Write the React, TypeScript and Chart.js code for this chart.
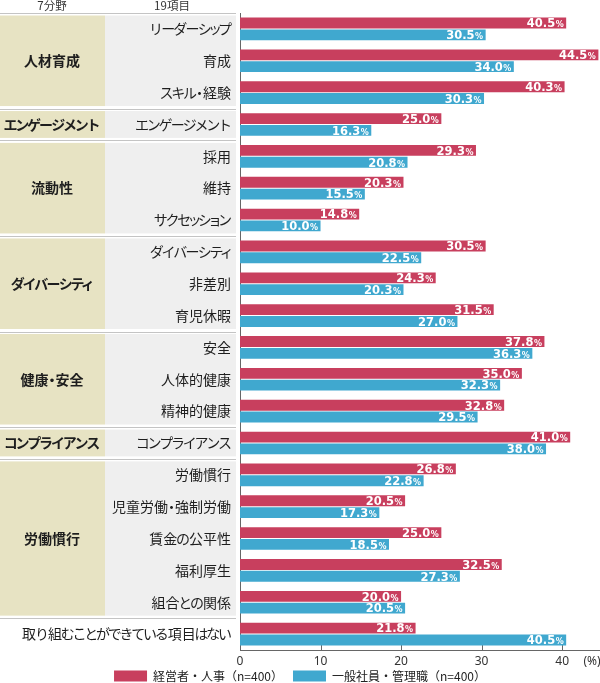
import React, { useEffect, useRef } from "react";
import { Chart, registerables } from "chart.js";

Chart.register(...registerables);

const headerLabels = ["7分野", "19項目"];
const groupNames = ["人材育成", "エンゲージメント", "流動性", "ダイバーシティ", "健康・安全", "コンプライアンス", "労働慣行"];
const groupSizes = [3, 1, 3, 3, 3, 1, 5];
const itemLabels = [
  "リーダーシップ", "育成", "スキル・経験",
  "エンゲージメント",
  "採用", "維持", "サクセッション",
  "ダイバーシティ", "非差別", "育児休暇",
  "安全", "人体的健康", "精神的健康",
  "コンプライアンス",
  "労働慣行", "児童労働・強制労働", "賃金の公平性", "福利厚生", "組合との関係",
  "取り組むことができている項目はない",
];
const executiveValues = [40.5, 44.5, 40.3, 25.0, 29.3, 20.3, 14.8, 30.5, 24.3, 31.5, 37.8, 35.0, 32.8, 41.0, 26.8, 20.5, 25.0, 32.5, 20.0, 21.8];
const employeeValues = [30.5, 34.0, 30.3, 16.3, 20.8, 15.5, 10.0, 22.5, 20.3, 27.0, 36.3, 32.3, 29.5, 38.0, 22.8, 17.3, 18.5, 27.3, 20.5, 40.5];
const seriesLabels = ["経営者・人事（n=400）", "一般社員・管理職（n=400）"];
const xTickValues = [0, 10, 20, 30, 40];
const unitLabel = "(%)";

const RED = "#c83f5e";
const BLUE = "#40a8cf";
const BEIGE = "#e7e3c3";
const LIGHT = "#efefef";
const LINE = "#c4c4c4";
const JP = "'Noto Sans CJK JP', 'Noto Sans', sans-serif";

function advanceOf(ctx: CanvasRenderingContext2D, ch: string, size: number) {
  if ("ッャュョィェォァゥっゃゅょ".includes(ch)) return size * 0.62;
  if (ch === "・") return size * 0.5;
  if (ch === "ー") return size * 0.9;
  if (/[\u3040-\u30ff]/.test(ch)) return size * 0.84;
  return ctx.measureText(ch).width;
}

function drawJP(ctx: CanvasRenderingContext2D, text: string, x: number, y: number, size: number, align: "left" | "right" | "center") {
  const chars = [...text];
  const advs = chars.map((ch) => advanceOf(ctx, ch, size));
  const total = advs.reduce((a, b) => a + b, 0);
  let cx = align === "right" ? x - total : align === "center" ? x - total / 2 : x;
  ctx.textAlign = "center";
  chars.forEach((ch, i) => {
    ctx.fillText(ch, cx + advs[i] / 2, y);
    cx += advs[i];
  });
}

const tablePlugin = {
  id: "leftTable",
  beforeDraw(chart: any) {
    const ctx: CanvasRenderingContext2D = chart.ctx;
    const y = chart.scales.y;
    const half = Math.abs(y.getPixelForValue(1) - y.getPixelForValue(0)) / 2;
    const colSplit = 105;
    const tableRight = 236;
    ctx.save();
    ctx.fillStyle = "#333";
    ctx.textBaseline = "middle";
    ctx.font = `11.5px ${JP}`;
    drawJP(ctx, headerLabels[0], 52, 6, 11.5, "center");
    drawJP(ctx, headerLabels[1], 172, 6, 11.5, "center");

    const boundaries: number[] = [];
    let idx = 0;
    groupNames.forEach((g, gi) => {
      const n = groupSizes[gi];
      const top = y.getPixelForValue(idx) - half;
      const bottom = y.getPixelForValue(idx + n - 1) + half;
      boundaries.push(top);
      ctx.fillStyle = BEIGE;
      ctx.fillRect(0, top + 2.5, colSplit, bottom - top - 5);
      ctx.fillStyle = LIGHT;
      ctx.fillRect(colSplit, top + 2.5, tableRight - colSplit, bottom - top - 5);
      ctx.fillStyle = "#1e1e1e";
      ctx.font = `bold 14px ${JP}`;
      drawJP(ctx, g, 52, (top + bottom) / 2, 14, "center");
      if (gi === groupNames.length - 1) boundaries.push(bottom);
      idx += n;
    });
    ctx.strokeStyle = LINE;
    ctx.lineWidth = 1;
    boundaries.forEach((b) => {
      ctx.beginPath();
      ctx.moveTo(0, Math.round(b) + 0.5);
      ctx.lineTo(tableRight, Math.round(b) + 0.5);
      ctx.stroke();
    });
    ctx.fillStyle = "#1e1e1e";
    ctx.font = `14px ${JP}`;
    itemLabels.forEach((lab, i) => {
      drawJP(ctx, lab, 231, y.getPixelForValue(i), 14, "right");
    });

    // x axis: tick marks (upward), tick labels and unit
    const x = chart.scales.x;
    const area = chart.chartArea;
    ctx.strokeStyle = "#666";
    xTickValues.forEach((v) => {
      if (v === 0) return;
      const px = Math.round(x.getPixelForValue(v)) + 0.5;
      ctx.beginPath();
      ctx.moveTo(px, area.bottom);
      ctx.lineTo(px, area.bottom - 5);
      ctx.stroke();
    });
    ctx.fillStyle = "#333";
    ctx.font = `12px 'Noto Sans', sans-serif`;
    ctx.textAlign = "center";
    ctx.textBaseline = "middle";
    xTickValues.forEach((v) => {
      ctx.fillText(String(v), x.getPixelForValue(v), area.bottom + 12);
    });
    ctx.fillText(unitLabel, 592, area.bottom + 12);
    ctx.restore();
  },
};

const valueLabelPlugin = {
  id: "valueLabels",
  afterDatasetsDraw(chart: any) {
    const ctx: CanvasRenderingContext2D = chart.ctx;
    ctx.save();
    ctx.fillStyle = "#ffffff";
    ctx.textAlign = "right";
    ctx.textBaseline = "alphabetic";
    chart.data.datasets.forEach((ds: any, di: number) => {
      const meta = chart.getDatasetMeta(di);
      meta.data.forEach((el: any, i: number) => {
        const v = ds.data[i] as number;
        const base = el.y + 4.3;
        ctx.font = "bold 8px 'DejaVu Sans', sans-serif";
        const pw = ctx.measureText("%").width;
        ctx.fillText("%", el.x - 2.5, base);
        ctx.font = "bold 11.5px 'DejaVu Sans', sans-serif";
        ctx.fillText(v.toFixed(1), el.x - 2.5 - pw - 0.5, base);
      });
    });
    ctx.restore();
  },
};

export default function App() {
  const ref = useRef<HTMLCanvasElement | null>(null);
  useEffect(() => {
    if (!ref.current) return;
    const chart = new Chart(ref.current, {
      type: "bar",
      data: {
        labels: itemLabels,
        datasets: [
          { label: seriesLabels[0], data: executiveValues, backgroundColor: RED, categoryPercentage: 0.74, barPercentage: 0.92 },
          { label: seriesLabels[1], data: employeeValues, backgroundColor: BLUE, categoryPercentage: 0.74, barPercentage: 0.92 },
        ],
      },
      options: {
        indexAxis: "y",
        responsive: false,
        animation: false,
        layout: { padding: { left: 0, top: 13, right: 0, bottom: 0 } },
        scales: {
          x: {
            min: 0,
            max: 44.7,
            grid: { display: false, drawTicks: false },
            border: { display: true, color: "#666", width: 1 },
            ticks: { stepSize: 10, includeBounds: false, display: false },
            afterFit: (s: any) => {
              s.height = 10;
            },
          },
          y: {
            grid: { display: false, drawTicks: false },
            border: { display: true, color: "#666", width: 1 },
            ticks: { display: false },
            afterFit: (s: any) => {
              s.width = 240;
            },
          },
        },
        plugins: {
          legend: {
            position: "bottom",
            labels: {
              boxWidth: 33,
              boxHeight: 11,
              padding: 10,
              color: "#222",
              font: { family: JP, size: 12 },
            },
          },
          tooltip: { enabled: false },
        },
      } as any,
      plugins: [tablePlugin, valueLabelPlugin],
    });
    return () => chart.destroy();
  }, []);
  return (
    <div style={{ position: "fixed", left: 0, top: 0, width: 600, height: 683, overflow: "hidden", background: "#fff" }}>
      <canvas ref={ref} width={600} height={692} style={{ display: "block", width: 600, height: 692 }} />
    </div>
  );
}
